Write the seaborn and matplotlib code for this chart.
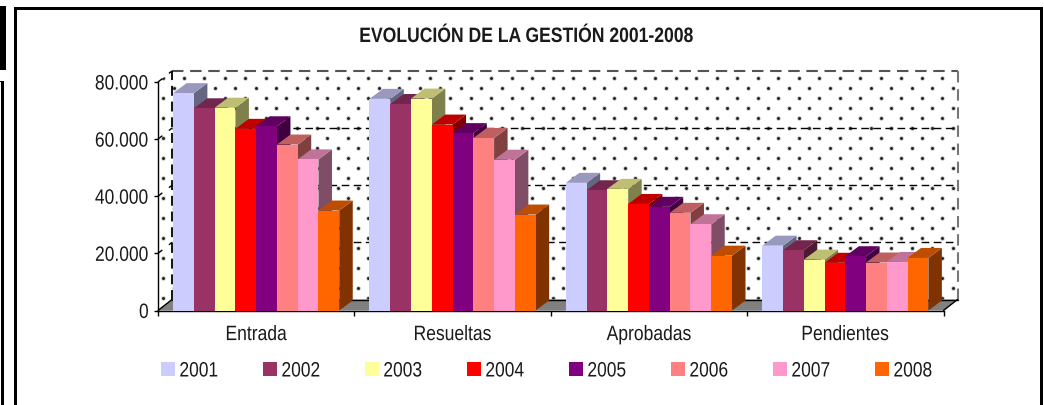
import numpy as np
import pandas as pd
import matplotlib
matplotlib.use("Agg")
import matplotlib.pyplot as plt
import seaborn as sns
from matplotlib.patches import Polygon, Rectangle
from matplotlib.lines import Line2D
from matplotlib.transforms import IdentityTransform, Affine2D
from matplotlib.ticker import FixedLocator
from matplotlib.patheffects import AbstractPathEffect

title = "EVOLUCIÓN DE LA GESTIÓN 2001-2008"
categories = ["Entrada", "Resueltas", "Aprobadas", "Pendientes"]
years = ["2001", "2002", "2003", "2004", "2005", "2006", "2007", "2008"]
y2001 = [76100, 74100, 44700, 22700]
y2002 = [70800, 72300, 42100, 21100]
y2003 = [71000, 74200, 42600, 17800]
y2004 = [63600, 65100, 37300, 16700]
y2005 = [64500, 62100, 36300, 19000]
y2006 = [58100, 60400, 34200, 16800]
y2007 = [52900, 52800, 30200, 17000]
y2008 = [35000, 33600, 19200, 18400]
series = [y2001, y2002, y2003, y2004, y2005, y2006, y2007, y2008]
colors = ["#CCCCFF", "#993366", "#FFFF99", "#FF0000", "#800080", "#FF8080", "#FF99CC", "#FF6600"]
yticks = [0, 20000, 40000, 60000, 80000]
yticklabels = ["0", "20.000", "40.000", "60.000", "80.000"]

W, H = 1044, 406
sns.set_theme(style="white")
plt.rcParams["font.family"] = ["Liberation Sans", "DejaVu Sans"]
INK = "#1a1a1a"
fs = 15


class Squeeze(AbstractPathEffect):
    """Draw real text narrower (the reference uses a horizontally condensed face)."""

    def __init__(self, f, anchor):
        super().__init__()
        self.f, self.anchor = f, anchor

    def draw_path(self, renderer, gc, tpath, affine, rgbFace=None):
        ext = tpath.get_extents()
        dx = ext.x0 * (1 - self.f) + ext.width * (1 - self.f) * self.anchor
        t = Affine2D().scale(self.f, 1).translate(dx, 0) + affine
        renderer.draw_path(gc, tpath, t, rgbFace)


fig = plt.figure(figsize=(W / 100, H / 100), dpi=100, facecolor="white")
ax = fig.add_axes([158 / W, 1 - 311.5 / H, (943.5 - 158) / W, (311.5 - 83) / H])
ax.patch.set_visible(False)

df = pd.DataFrame({
    "cat": np.repeat(categories, len(years)),
    "year": years * len(categories),
})
df["val"] = [series[j][i] for i in range(len(categories)) for j in range(len(years))]
sns.barplot(data=df, x="cat", y="val", hue="year", hue_order=years, palette=colors,
            order=categories, width=0.846, gap=0, saturation=1, linewidth=0, ax=ax)
ax.set_xlim(-0.5, 3.5)
ax.set_ylim(0, 80000)
ax.set_xlabel("")
ax.set_ylabel("")
ax.set_yticks(yticks, yticklabels)
ax.set_xticks(range(4), categories)
ax.xaxis.set_minor_locator(FixedLocator([-0.5, 0.5, 1.5, 2.5, 3.5]))
ax.tick_params(axis="y", which="major", left=True, length=3, width=1, color="black",
               labelsize=fs, labelcolor=INK, pad=3.5)
ax.tick_params(axis="x", which="major", bottom=False, length=0, labelsize=fs, labelcolor=INK, pad=10.5)
ax.tick_params(axis="x", which="minor", bottom=True, length=3.5, width=1, color="black")
for t in ax.get_yticklabels():
    t.set_path_effects([Squeeze(0.836, 1)])
for t in ax.get_xticklabels():
    t.set_path_effects([Squeeze(0.84, 0.5)])
for s in ("top", "right"):
    ax.spines[s].set_visible(False)
for s in ("left", "bottom"):
    ax.spines[s].set_color("black")
    ax.spines[s].set_linewidth(1)
    ax.spines[s].set_zorder(2.5)

fig.canvas.draw()
T = ax.transData.transform
WALL_DX, WALL_DY = 14, 11
BAR_DX, BAR_DY = 13.5, 10
ID = IdentityTransform()


def wall(p):
    return T(p) + [WALL_DX, WALL_DY]


x0, x1 = ax.get_xlim()
ymax = yticks[-1]
a, b = T((x0, 0)), T((x1, 0))
c = T((x0, ymax))
ba, bb, bc, bd = wall((x0, 0)), wall((x1, 0)), wall((x1, ymax)), wall((x0, ymax))

# dotted wall pattern (back wall and side wall)
clip = Polygon([a, ba, bb, bc, bd, c], closed=True, transform=ID, fill=False, lw=0)
ax.add_patch(clip)
px = np.arange(-5, 1060, 20.5)
rows = np.arange(78.8, 310, 10.0)
gx, gy = [], []
for k, r in enumerate(rows):
    shift = 4.45 if k % 2 == 0 else -5.8
    gx.extend(px + shift)
    gy.extend(np.full(px.shape, H - r))
ax.scatter(gx, gy, s=11, c="#c4c4c4", linewidths=0, transform=ID, zorder=1, clip_path=clip)
ax.scatter(gx, gy, s=4.5, c="#222222", linewidths=0, transform=ID, zorder=1.1, clip_path=clip)

dash = (0, (5.5, 3.2))
for v in yticks[1:]:
    lw, col = (1.5, "#555555") if v == ymax else (1, "black")
    p, q = wall((x0, v)), wall((x1, v))
    ax.add_line(Line2D([p[0], q[0]], [p[1], q[1]], transform=ID, color=col, lw=lw,
                       linestyle=dash, zorder=1.5, clip_on=False))
    s = T((x0, v))
    ax.add_line(Line2D([s[0], p[0]], [s[1], p[1]], transform=ID, color="black", lw=1,
                       linestyle=(0, (4, 6)), zorder=1.5, clip_on=False))
ax.add_line(Line2D([ba[0], bd[0]], [ba[1], bd[1]], transform=ID, color="black", lw=1.3,
                   linestyle=dash, zorder=1.5, clip_on=False))
ax.add_line(Line2D([bb[0], bc[0]], [bb[1], bc[1]], transform=ID, color="#777777", lw=1.5,
                   linestyle=dash, zorder=1.5, clip_on=False))

# floor
ax.add_patch(Polygon([a, b, bb, ba], closed=True, transform=ID, facecolor="#808080",
                     edgecolor="none", zorder=2, clip_on=False))
for u, w_ in ((a, ba), (b, bb), (ba, bb)):
    ax.add_line(Line2D([u[0], w_[0]], [u[1], w_[1]], transform=ID, color="black", lw=1,
                       zorder=2.1, clip_on=False))

# 3D bars: painter's order left to right
bars = []
for j, cont in enumerate(ax.containers):
    for r in cont:
        bars.append((r.get_x(), r, colors[j]))
bars.sort(key=lambda t: t[0])


def shade(col, f):
    return tuple(np.array(matplotlib.colors.to_rgb(col)) * f)


for i, (_, r, col) in enumerate(bars):
    z = 3 + i * 0.01
    l = T((r.get_x(), 0))[0]
    rr = T((r.get_x() + r.get_width(), 0))[0]
    bot = T((0, 0))[1]
    top = T((0, r.get_height()))[1]
    ax.add_patch(Polygon([(rr, bot), (rr + BAR_DX, bot + BAR_DY), (rr + BAR_DX, top + BAR_DY), (rr, top)],
                         closed=True, transform=ID, facecolor=shade(col, 0.5), edgecolor="none",
                         zorder=z, clip_on=False))
    ax.add_patch(Polygon([(l, top), (rr, top), (rr + BAR_DX, top + BAR_DY), (l + BAR_DX, top + BAR_DY)],
                         closed=True, transform=ID, facecolor=shade(col, 0.75), edgecolor="none",
                         zorder=z, clip_on=False))
    r.set_zorder(z + 0.001)

# legend
handles = [Rectangle((0, 0), 1, 1, facecolor=c_, edgecolor="none") for c_ in colors]
old = ax.get_legend()
if old is not None:
    old.remove()
px_em = fs * 100 / 72
leg = fig.legend(handles, years, ncol=8, loc="center", bbox_to_anchor=(550.6 / W, 1 - 372 / H),
                 bbox_transform=fig.transFigure, frameon=False, fontsize=fs, labelcolor=INK,
                 handlelength=14 / px_em, handleheight=14 / px_em, handletextpad=4 / px_em,
                 columnspacing=37.4 / px_em, borderpad=0, borderaxespad=0)
for t in leg.get_texts():
    t.set_path_effects([Squeeze(0.835, 0)])

tt = fig.text(526.5 / W, 1 - 37.5 / H, title, ha="center", va="center", fontsize=fs,
              fontweight="bold", color=INK)
tt.set_path_effects([Squeeze(0.843, 0.5)])


# page frame
def rect(x, y, w, h):
    fig.add_artist(Rectangle((x / W, 1 - (y + h) / H), w / W, h / H, transform=fig.transFigure,
                             facecolor="black", edgecolor="none"))


rect(14, 8, 3, H - 8)
rect(14, 8, 1029, 3)
rect(1040, 8, 3, H - 8)
rect(0, 7, 6, 64)
rect(0, 82, 4, 1)
rect(1, 82, 3, H - 82)

fig.savefig("out.png", dpi=100, facecolor="white")
